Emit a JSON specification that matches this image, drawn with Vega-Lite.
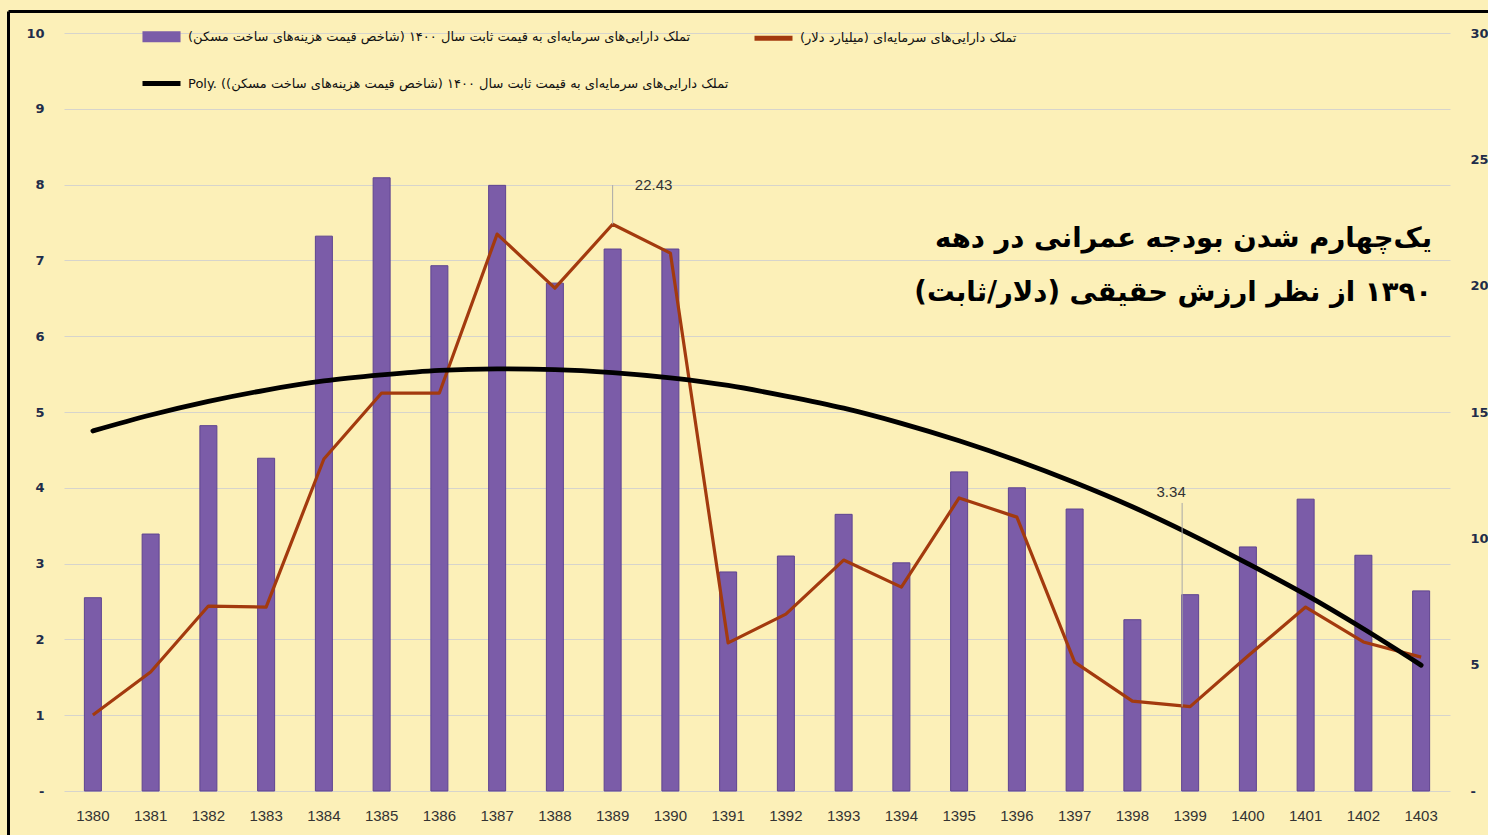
{
  "$schema": "https://vega.github.io/schema/vega-lite/v6.json",
  "width": 1386,
  "height": 758,
  "autosize": {"type": "none"},
  "padding": {"left": 64, "top": 33, "right": 38, "bottom": 44},
  "background": "#FCF0B8",
  "config": {"view": {"stroke": null}, "font": "Liberation Sans"},
  "title": {
    "text": ["\u200fیک\u200cچهارم شدن بودجه عمرانی در دهه\u200f", "\u200f۱۳۹۰ از نظر ارزش حقیقی (دلار/ثابت)\u200f"],
    "anchor": "end",
    "frame": "group",
    "font": "DejaVu Sans",
    "fontSize": 27.5,
    "fontWeight": "bold",
    "color": "#000000",
    "lineHeight": 54,
    "baseline": "top",
    "offset": 0,
    "dy": 297,
    "dx": -18
  },
  "data": {
    "values": [
      {"year": "1380", "bar": 2.55, "line": 3.01, "trend": 4.75},
      {"year": "1381", "bar": 3.39, "line": 4.71, "trend": 4.96},
      {"year": "1382", "bar": 4.82, "line": 7.32, "trend": 5.14},
      {"year": "1383", "bar": 4.39, "line": 7.28, "trend": 5.29},
      {"year": "1384", "bar": 7.32, "line": 13.14, "trend": 5.41},
      {"year": "1385", "bar": 8.09, "line": 15.75, "trend": 5.49},
      {"year": "1386", "bar": 6.93, "line": 15.75, "trend": 5.55},
      {"year": "1387", "bar": 7.99, "line": 22.04, "trend": 5.57},
      {"year": "1388", "bar": 6.70, "line": 19.9, "trend": 5.56},
      {"year": "1389", "bar": 7.15, "line": 22.43, "trend": 5.52},
      {"year": "1390", "bar": 7.15, "line": 21.29, "trend": 5.45},
      {"year": "1391", "bar": 2.89, "line": 5.86, "trend": 5.35},
      {"year": "1392", "bar": 3.10, "line": 7.0, "trend": 5.21},
      {"year": "1393", "bar": 3.65, "line": 9.14, "trend": 5.05},
      {"year": "1394", "bar": 3.01, "line": 8.07, "trend": 4.85},
      {"year": "1395", "bar": 4.21, "line": 11.6, "trend": 4.62},
      {"year": "1396", "bar": 4.00, "line": 10.84, "trend": 4.36},
      {"year": "1397", "bar": 3.72, "line": 5.1, "trend": 4.07},
      {"year": "1398", "bar": 2.26, "line": 3.56, "trend": 3.75},
      {"year": "1399", "bar": 2.59, "line": 3.34, "trend": 3.39},
      {"year": "1400", "bar": 3.22, "line": 5.34, "trend": 3.00},
      {"year": "1401", "bar": 3.85, "line": 7.28, "trend": 2.59},
      {"year": "1402", "bar": 3.11, "line": 5.9, "trend": 2.14},
      {"year": "1403", "bar": 2.64, "line": 5.3, "trend": 1.66}
    ]
  },
  "encoding": {
    "x": {
      "field": "year",
      "type": "ordinal",
      "sort": null,
      "scale": {"paddingInner": 0.7, "paddingOuter": 0.35},
      "axis": {
        "title": null,
        "labelAngle": 0,
        "labelFont": "Liberation Sans",
        "labelFontSize": 15,
        "labelColor": "#333333",
        "ticks": false,
        "domain": false,
        "labelPadding": 17
      }
    }
  },
  "layer": [
    {
      "mark": {"type": "bar", "size": 17, "stroke": "#5E4490", "strokeWidth": 1},
      "encoding": {
        "y": {
          "field": "bar",
          "type": "quantitative",
          "scale": {"domain": [0, 10], "nice": false},
          "axis": {
            "title": null,
            "values": [0, 1, 2, 3, 4, 5, 6, 7, 8, 9, 10],
            "grid": true,
            "gridColor": "#D6D4CC",
            "gridWidth": 1,
            "domain": false,
            "ticks": false,
            "labelPadding": 20,
            "labelFont": "DejaVu Sans",
            "labelFontSize": 13,
            "labelFontWeight": "bold",
            "labelColor": "#1F2D4A",
            "labelExpr": "datum.value == 0 ? '-' : datum.label"
          }
        },
        "color": {
          "datum": "A",
          "scale": {"domain": ["A", "C", "B"], "range": ["#7B5CA8", "#000000", "#A33A0E"]},
          "legend": {
            "title": null,
            "orient": "none",
            "legendX": 76,
            "legendY": -18,
            "columns": 2,
            "columnPadding": 15,
            "rowPadding": 12,
            "padding": 0,
            "symbolSize": 1444,
            "symbolStrokeWidth": 5,
            "labelFont": "DejaVu Sans",
            "labelFontSize": 13,
            "labelColor": "#111111",
            "labelLimit": 2000,
            "labelOffset": 5,
            "labelExpr": "datum.value == 'A' ? '\u200fتملک دارایی\u200cهای سرمایه\u200cای به قیمت ثابت سال ۱۴۰۰ (شاخص قیمت هزینه\u200cهای ساخت مسکن)\u200f' : datum.value == 'B' ? '\u200fتملک دارایی\u200cهای سرمایه\u200cای (میلیارد دلار)\u200f' : 'Poly. \u200fتملک دارایی\u200cهای سرمایه\u200cای به قیمت ثابت سال ۱۴۰۰ (شاخص قیمت هزینه\u200cهای ساخت مسکن))\u200f'"
          }
        }
      }
    },
    {
      "mark": {"type": "line", "strokeWidth": 3.2, "strokeJoin": "round"},
      "encoding": {
        "y": {
          "field": "line",
          "type": "quantitative",
          "scale": {"domain": [0, 30], "nice": false},
          "axis": {
            "title": null,
            "orient": "right",
            "values": [0, 5, 10, 15, 20, 25, 30],
            "grid": false,
            "domain": false,
            "ticks": false,
            "labelPadding": 20,
            "labelFont": "DejaVu Sans",
            "labelFontSize": 13,
            "labelFontWeight": "bold",
            "labelColor": "#1F2D4A",
            "labelExpr": "datum.value == 0 ? '-' : datum.label"
          }
        },
        "color": {"datum": "B"}
      }
    },
    {
      "mark": {"type": "line", "strokeWidth": 4.8, "strokeCap": "round", "interpolate": "monotone"},
      "encoding": {
        "y": {"field": "trend", "type": "quantitative", "scale": {"domain": [0, 10], "nice": false}, "axis": null},
        "color": {"datum": "C"}
      }
    },
    {
      "data": {"values": []},
      "mark": {"type": "point"},
      "encoding": {
        "color": {"datum": "A"},
        "shape": {
          "datum": "A",
          "scale": {"domain": ["A", "C", "B"], "range": ["M-0.87,-0.16H0.87V0.16H-0.87Z", "stroke", "stroke"]}
        }
      }
    },
    {
      "data": {"values": []},
      "mark": {"type": "rule"},
      "encoding": {
        "y": {
          "field": "f",
          "type": "quantitative",
          "scale": {"domain": [0, 1], "range": [802, -22], "nice": false},
          "axis": {
            "title": null,
            "orient": "left",
            "offset": 56,
            "values": [1],
            "labels": false,
            "grid": false,
            "domain": true,
            "domainColor": "#000000",
            "domainWidth": 3,
            "ticks": true,
            "tickColor": "#000000",
            "tickWidth": 3,
            "tickSize": -1482
          }
        }
      }
    },
    {
      "data": {"values": [{"year": "1389", "value": 22.43, "at": 23.98, "label": "22.43"}]},
      "layer": [
        {
          "mark": {"type": "rule", "color": "#A8A8A8", "strokeWidth": 1},
          "encoding": {
            "y": {"field": "value", "type": "quantitative", "scale": {"domain": [0, 30], "nice": false}, "axis": null},
            "y2": {"field": "at"}
          }
        },
        {
          "mark": {"type": "text", "font": "Liberation Sans", "fontSize": 15, "color": "#333333", "align": "center", "baseline": "middle", "dx": 41},
          "encoding": {
            "y": {"field": "at", "type": "quantitative", "scale": {"domain": [0, 30], "nice": false}, "axis": null},
            "text": {"field": "label"}
          }
        }
      ]
    },
    {
      "data": {"values": [{"year": "1399", "value": 3.34, "at": 11.4, "lab": 11.83, "label": "3.34"}]},
      "layer": [
        {
          "mark": {"type": "rule", "color": "#A8A8A8", "strokeWidth": 1, "xOffset": -8},
          "encoding": {
            "y": {"field": "value", "type": "quantitative", "scale": {"domain": [0, 30], "nice": false}, "axis": null},
            "y2": {"field": "at"}
          }
        },
        {
          "mark": {"type": "text", "font": "Liberation Sans", "fontSize": 15, "color": "#333333", "align": "center", "baseline": "middle", "dx": -19},
          "encoding": {
            "y": {"field": "lab", "type": "quantitative", "scale": {"domain": [0, 30], "nice": false}, "axis": null},
            "text": {"field": "label"}
          }
        }
      ]
    }
  ],
  "resolve": {"scale": {"y": "independent"}}
}
